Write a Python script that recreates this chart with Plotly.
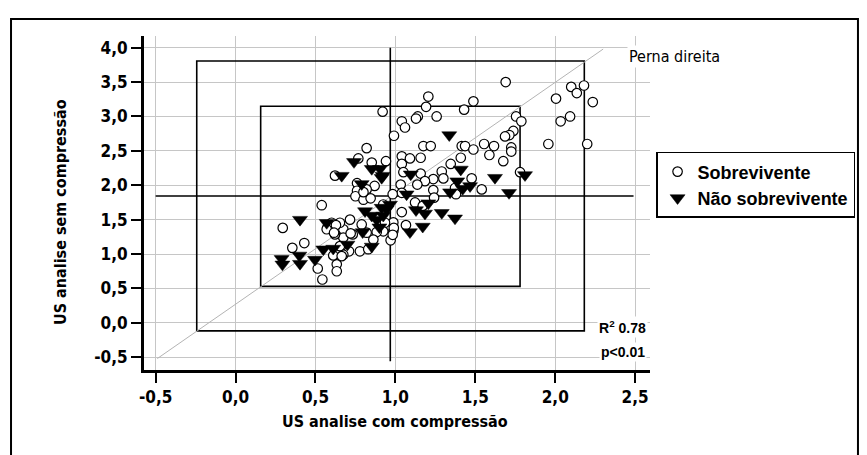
import plotly.graph_objects as go

# --- data: US analysis with compression (x) vs without compression (y), right leg ---
sobrevivente_x = [
    1.69, 2.10, 2.18, 2.135, 2.005, 2.235, 2.034, 2.093, 1.957, 2.20, 1.755, 1.788,
    1.738, 1.713, 1.686, 1.555, 1.617, 1.588, 1.725, 1.725, 1.675, 1.78, 1.54,
    1.206, 1.488, 1.192, 1.43, 0.92, 1.258, 1.14, 1.129, 1.04, 1.06, 0.991, 1.175,
    1.221, 1.415, 1.436, 1.488, 1.409,
    1.04, 1.04, 1.091, 1.158, 0.941, 1.05, 1.158, 1.346, 1.29, 1.237, 1.30, 1.185,
    1.137, 1.033, 1.04, 0.983, 1.477, 1.237, 1.373, 1.379, 1.242,
    0.82, 0.768, 0.852, 0.622, 0.76, 0.87, 0.76, 0.82, 0.75, 0.80, 0.845, 0.80,
    1.04, 0.987, 0.987, 0.97, 1.066, 1.123, 0.924, 1.171, 0.99, 0.983, 0.935, 0.924,
    0.883, 0.82, 0.789, 0.716, 0.733, 0.674, 0.674, 0.778, 0.71, 0.674, 0.862,
    0.539, 0.295, 0.43, 0.355, 0.514, 0.543, 0.633, 0.633, 0.611, 0.664, 0.574,
    0.601, 0.653, 0.622, 0.72, 0.653, 0.83, 0.57, 0.628, 0.616,
]
sobrevivente_y = [
    3.50, 3.43, 3.45, 3.34, 3.26, 3.21, 2.93, 3.00, 2.60, 2.60, 3.00, 2.93,
    2.79, 2.73, 2.71, 2.60, 2.57, 2.44, 2.55, 2.49, 2.35, 2.19, 1.94,
    3.29, 3.22, 3.14, 3.10, 3.07, 3.00, 3.00, 2.97, 2.93, 2.84, 2.72, 2.57,
    2.57, 2.57, 2.57, 2.52, 2.40,
    2.42, 2.31, 2.39, 2.40, 2.35, 2.19, 2.17, 2.31, 2.20, 2.09, 2.10, 2.06,
    2.01, 2.01, 1.89, 1.87, 2.10, 1.93, 1.96, 1.87, 1.82,
    2.54, 2.39, 2.33, 2.14, 2.03, 1.99, 1.92, 1.94, 1.84, 1.79, 1.81, 1.90,
    1.61, 1.46, 1.33, 1.20, 1.42, 1.75, 1.72, 1.70, 1.38, 1.28, 1.455, 1.33,
    1.32, 1.31, 1.43, 1.50, 1.285, 1.36, 1.24, 1.04, 1.04, 0.99, 1.21,
    1.71, 1.38, 1.16, 1.09, 0.79, 0.63, 0.85, 0.75, 0.98, 0.97, 1.38,
    1.455, 1.455, 1.285, 1.30, 1.115, 1.07, 1.36, 1.42, 1.31,
]

nao_sobrevivente_x = [
    1.623, 1.811, 1.711, 1.337, 1.409, 1.096, 0.92, 1.387, 1.467, 1.421, 1.342,
    1.07, 1.29, 1.373, 1.171, 1.091, 1.206, 1.129, 1.185, 0.90,
    0.741, 0.852, 0.904, 0.914, 0.664, 0.789, 0.966, 0.945, 0.914, 0.81, 0.852,
    0.883, 0.924, 0.795, 0.852, 0.70,
    0.288, 0.293, 0.403, 0.399, 0.403, 0.497, 0.549, 0.57, 0.611,
]
nao_sobrevivente_y = [
    2.11, 2.15, 1.89, 2.73, 2.23, 2.16, 2.14, 2.06, 1.99, 1.95, 1.90,
    1.87, 1.60, 1.52, 1.40, 1.32, 1.74, 1.64, 1.59, 1.39,
    2.34, 2.24, 2.24, 2.11, 2.14, 2.02, 1.72, 1.65, 1.675, 1.625, 1.56,
    1.50, 1.56, 1.32, 1.11, 1.14,
    0.93, 0.85, 1.50, 0.98, 0.86, 0.92, 1.07, 1.455, 1.08,
]

# axis ticks (decimal comma labels)
x_ticks = [-0.5, 0.0, 0.5, 1.0, 1.5, 2.0, 2.5]
x_tick_labels = ["-0,5", "0,0", "0,5", "1,0", "1,5", "2,0", "2,5"]
y_ticks = [-0.5, 0.0, 0.5, 1.0, 1.5, 2.0, 2.5, 3.0, 3.5, 4.0]
y_tick_labels = ["-0,5", "0,0", "0,5", "1,0", "1,5", "2,0", "2,5", "3,0", "3,5", "4,0"]

# reference boxes, mean cross and diagonal
outer_box = (-0.243, -0.117, 2.182, 3.806)   # x0, y0, x1, y1
inner_box = (0.157, 0.53, 1.78, 3.149)
cross_x, cross_y = 0.968, 1.844
cross_x_span = (-0.5, 2.49)
cross_y_span = (-0.56, 4.0)
diagonal = ((-0.49, -0.52), (2.30, 3.98))

r_squared = "0.78"
p_value = "p<0.01"

X_RANGE = [-0.573, 2.593]
Y_RANGE = [-0.686, 4.17]

NARROW = "Liberation Sans Narrow, Arial Narrow, DejaVu Sans Condensed, Arial, sans-serif"
SANS = "Liberation Sans, Arial, Helvetica, sans-serif"

fig = go.Figure()

fig.add_trace(go.Scatter(
    x=sobrevivente_x, y=sobrevivente_y, mode="markers", name="Sobrevivente",
    marker=dict(symbol="circle", size=9.5, color="white",
                line=dict(color="black", width=1.2)),
))
fig.add_trace(go.Scatter(
    x=nao_sobrevivente_x, y=nao_sobrevivente_y, mode="markers", name="Não sobrevivente",
    marker=dict(symbol="triangle-down", size=13, color="black",
                line=dict(color="black", width=0.5)),
))

shapes = []
for (x0, y0, x1, y1) in (outer_box, inner_box):
    shapes.append(dict(type="rect", xref="x", yref="y", x0=x0, y0=y0, x1=x1, y1=y1,
                       line=dict(color="black", width=1.6), layer="between"))
shapes.append(dict(type="line", xref="x", yref="y", x0=cross_x, x1=cross_x,
                   y0=cross_y_span[0], y1=cross_y_span[1],
                   line=dict(color="black", width=1.6), layer="between"))
shapes.append(dict(type="line", xref="x", yref="y", x0=cross_x_span[0], x1=cross_x_span[1],
                   y0=cross_y, y1=cross_y,
                   line=dict(color="black", width=1.6), layer="between"))
shapes.append(dict(type="line", xref="x", yref="y",
                   x0=diagonal[0][0], y0=diagonal[0][1], x1=diagonal[1][0], y1=diagonal[1][1],
                   line=dict(color="#b4b4b4", width=1), layer="between"))
# frame around the whole graphic
shapes.append(dict(type="rect", xref="paper", yref="paper",
                   x0=-0.2628, x1=1.411, y0=-0.30, y1=1.051,
                   line=dict(color="black", width=2), layer="below"))

annotations = [
    dict(text="Perna direita", xref="paper", yref="paper", x=0.955, y=0.94,
         xanchor="left", yanchor="middle", showarrow=False, bgcolor="white",
         font=dict(family=NARROW, size=16, color="black")),
    dict(text="R<sup>2</sup> " + r_squared, xref="paper", yref="paper", x=0.996, y=0.128,
         xanchor="right", yanchor="middle", showarrow=False, bgcolor="white",
         font=dict(family=SANS, size=14, color="black", weight="bold")),
    dict(text=p_value, xref="paper", yref="paper", x=0.994, y=0.054,
         xanchor="right", yanchor="middle", showarrow=False, bgcolor="white",
         font=dict(family=SANS, size=14, color="black", weight="bold")),
    dict(text="US analise com compressão", xref="paper", yref="paper", x=0.496, y=-0.153,
         xanchor="center", yanchor="middle", showarrow=False,
         font=dict(family=NARROW, size=16, color="black", weight="bold")),
    dict(text="US analise sem compressão", xref="paper", yref="paper", x=-0.166, y=0.473,
         xanchor="center", yanchor="middle", showarrow=False, textangle=-90,
         font=dict(family=NARROW, size=16, color="black", weight="bold")),
]

fig.update_layout(
    width=867, height=455,
    margin=dict(l=144, r=217, t=36, b=85),
    paper_bgcolor="white", plot_bgcolor="white",
    shapes=shapes, annotations=annotations,
    showlegend=True,
    legend=dict(x=1.012, y=0.653, xanchor="left", yanchor="top",
                bordercolor="black", borderwidth=1.5, bgcolor="white",
                font=dict(family=SANS, size=18, color="black", weight="bold"),
                tracegroupgap=0),
)

fig.update_xaxes(
    range=X_RANGE, tickvals=x_ticks, ticktext=x_tick_labels,
    showgrid=True, gridcolor="#c6c6c6", gridwidth=1, zeroline=False,
    showline=True, linecolor="black", linewidth=3,
    ticks="outside", ticklen=10, tickwidth=2, tickcolor="black",
    tickfont=dict(family=NARROW, size=17, color="black", weight="bold"),
)
fig.update_yaxes(
    range=Y_RANGE, tickvals=y_ticks, ticktext=y_tick_labels,
    showgrid=True, gridcolor="#c6c6c6", gridwidth=1, zeroline=False,
    showline=True, linecolor="black", linewidth=3,
    ticks="outside", ticklen=10, tickwidth=2, tickcolor="black",
    tickfont=dict(family=NARROW, size=17, color="black", weight="bold"),
)

fig.write_html("out.html")
